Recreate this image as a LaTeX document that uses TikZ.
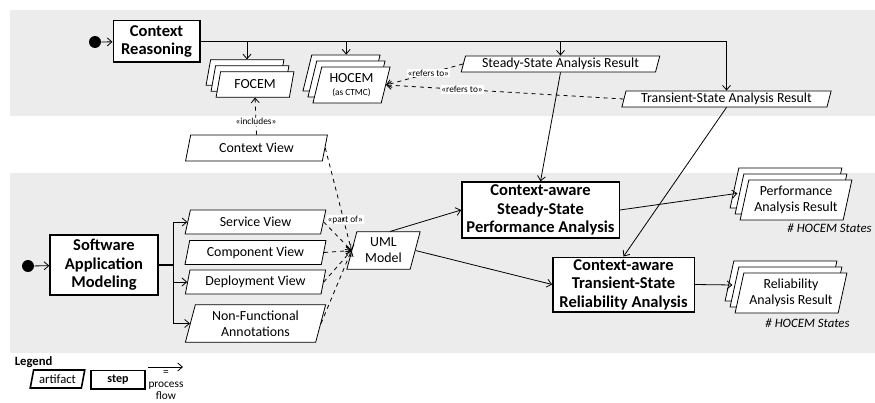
\documentclass[tikz,border=0pt]{standalone}
\usepackage{fontspec}
\setmainfont{Carlito}
\usetikzlibrary{shapes.geometric,arrows.meta,shadows}

\begin{document}
\begin{tikzpicture}[x=0.75pt,y=-0.75pt,->,>={Straight Barb[length=3.5pt,width=6pt]},semithick,
    stepbox/.style={rectangle,draw,line width=1pt,fill=white,align=center,
      font=\bfseries\fontsize{12.4}{13.8}\selectfont,inner sep=1pt},
    artifact/.style={trapezium,trapezium left angle=75,trapezium right angle=105,
      trapezium stretches=true,draw,fill=white,align=center,inner sep=0.5pt,
      font=\fontsize{10.4}{12}\selectfont},
    stacked/.style={copy shadow={shadow xshift=-7.5pt,shadow yshift=9pt,fill=white,draw},
      copy shadow={shadow xshift=-3.75pt,shadow yshift=4.5pt,fill=white,draw}},
    initial dot/.style={circle,fill=black,minimum size=9pt,inner sep=0pt},
    dep/.style={dashed},
    stereo/.style={font=\fontsize{7}{8}\selectfont,fill=white,inner sep=0.6pt},
    states/.style={font=\itshape\fontsize{9.6}{10}\selectfont,anchor=east,inner sep=0pt}]
  \useasboundingbox (0,0) rectangle (875,403);
  \fill[gray!15] (10,10) rectangle (875,116);
  \fill[gray!15] (10,173) rectangle (875,353);

  % context part
  \node[initial dot] (i1) at (95,42) {};
  \node[stepbox,minimum width=65pt,minimum height=31pt] (cr) at (156.5,41.5) {Context\\Reasoning};
  \node[artifact,stacked,minimum width=58.5pt,minimum height=19pt] (focem) at (255,84.5) {FOCEM};
  \node[artifact,stacked,minimum width=58pt,minimum height=27pt] (hocem) at (351.5,85)
    {HOCEM\\[-2pt]{\fontsize{7}{7}\selectfont (as CTMC)}};
  \node[artifact,minimum width=149pt,minimum height=12pt] (ssr) at (560.5,64) {Steady-State Analysis Result};
  \node[artifact,minimum width=157pt,minimum height=12pt] (tsr) at (726.5,99) {Transient-State Analysis Result};
  \node[artifact,minimum width=107pt,minimum height=19.5pt] (cv) at (256.5,148) {Context View};

  % application part
  \node[initial dot] (i2) at (28,266) {};
  \node[stepbox,minimum width=81pt,minimum height=45pt] (sam) at (104,265) {Software\\Application\\Modeling};
  \node[artifact,minimum width=106pt,minimum height=18pt] (sv) at (255.5,222) {Service View};
  \node[artifact,minimum width=106pt,minimum height=18pt] (cpv) at (255.5,252.5) {Component View};
  \node[artifact,minimum width=106pt,minimum height=18pt] (dv) at (255.5,282) {Deployment View};
  \node[artifact,minimum width=106pt,minimum height=28pt] (nfa) at (255.5,323.5) {Non-Functional\\Annotations};
  \node[artifact,minimum width=55pt,minimum height=28pt] (uml) at (383.5,250.5) {UML\\Model};
  \node[stepbox,minimum width=118pt,minimum height=42pt] (ssp) at (540.5,210)
    {Context-aware\\Steady-State\\Performance Analysis};
  \node[stepbox,minimum width=106pt,minimum height=41pt] (tsa) at (623.5,284.5)
    {Context-aware\\Transient-State\\Reliability Analysis};
  \node[artifact,stacked,minimum width=84pt,minimum height=30pt] (par) at (796,200) {Performance\\Analysis Result};
  \node[artifact,stacked,minimum width=84pt,minimum height=30pt] (rar) at (791,293) {Reliability\\Analysis Result};
  \node[states] (hs1) at (872,228) {\# HOCEM States};
  \node[states] (hs2) at (850,323) {\# HOCEM States};

  % flows
  \draw (i1) -- (cr);
  \draw (cr.east) -| (tsr.north);
  \draw ([xshift=-6pt]focem.north |- cr.east) -- ([xshift=-6pt,yshift=9pt]focem.north);
  \draw ([xshift=-4pt]hocem.north |- cr.east) -- ([xshift=-4pt,yshift=9pt]hocem.north);
  \draw (ssr.north |- cr.east) -- (ssr.north);
  \draw (ssr.south) -- (ssp.north);
  \draw (tsr.south) -- (tsa.north);
  \draw (ssp.east) -- ([xshift=-5pt,yshift=5pt]par.west);
  \draw (tsa.east) -- ([xshift=-5pt,yshift=6pt]rar.west);
  \draw ([xshift=5pt]uml.north) -- (ssp.west);
  \draw (uml.east) -- (tsa.west);

  \draw (i2) -- (sam);
  \draw[-,line width=1.2pt] (sam.east) -- ++(15,0) coordinate (br);
  \draw (br) |- (sv.west);
  \draw (br) |- (dv.west);
  \draw (br) |- (nfa.west);

  % dependencies
  \draw[dep] (cv.north) -- node[stereo,pos=0.35] {«includes»} (focem.south);
  \draw[dep] (ssr.west) -- node[stereo,pos=0.45] {«refers to»} (hocem.east);
  \draw[dep] (tsr.west) -- node[stereo,pos=0.68] {«refers to»} (hocem.east);
  \draw[dep] (sv.east) -- node[stereo,pos=0.1,anchor=south west] {«part of»} (uml.west);
  \draw[dep] (cpv.east) -- (uml.west);
  \draw[dep] (dv.east) -- (uml.west);
  \draw[dep] (nfa.east) -- (uml.west);
  \draw[dep] (cv.east) -- (uml.west);

  % legend
  \node[font=\bfseries\fontsize{9.5}{10}\selectfont,anchor=west] (lg) at (10,362) {Legend};
  \node[artifact,line width=1.2pt,minimum width=41pt,minimum height=13.5pt,
    font=\fontsize{9.5}{10}\selectfont] (la) at (57.5,379) {artifact};
  \node[stepbox,minimum width=40.5pt,minimum height=14pt,
    font=\bfseries\fontsize{9}{10}\selectfont] (ls) at (118,379.5) {step};
  \coordinate (pa) at (148,367);
  \coordinate (pb) at (183,367);
  \draw (pa) -- (pb);
  \node[font=\fontsize{8.5}{9}\selectfont,align=center,anchor=north,inner sep=0.5pt] (lp) at (166,370)
    {=\\process\\flow};
\end{tikzpicture}
\end{document}
